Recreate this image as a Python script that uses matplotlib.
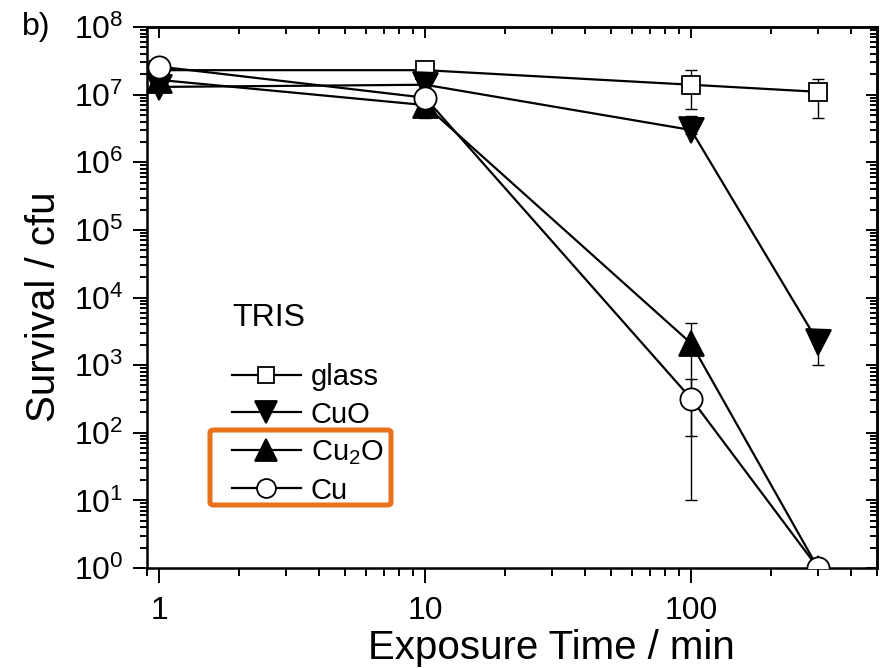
import matplotlib
matplotlib.use("Agg")
import matplotlib.pyplot as plt
from matplotlib.ticker import LogLocator, FixedLocator, FixedFormatter, NullFormatter, LogFormatterMathtext
from matplotlib.patches import FancyBboxPatch
import numpy as np

plt.rcParams['font.family'] = ['Liberation Sans', 'DejaVu Sans']
plt.rcParams['mathtext.fontset'] = 'custom'
plt.rcParams['mathtext.rm'] = 'Liberation Sans'
plt.rcParams['mathtext.it'] = 'Liberation Sans'

# Exposure times (min) and surviving colony-forming units
time = [1, 10, 100, 300]
labels = ["glass", "CuO", "Cu$_2$O", "Cu"]

glass = [2.3e7, 2.3e7, 1.4e7, 1.1e7]
glass_lo = [2.0e7, 1.9e7, 6.2e6, 4.5e6]
glass_hi = [2.6e7, 3.0e7, 2.3e7, 1.7e7]

cuo = [1.3e7, 1.4e7, 3.0e6, 2.2e3]
cuo_lo = [1.1e7, 1.2e7, 2.6e6, 1.0e3]
cuo_hi = [1.5e7, 1.6e7, 4.8e6, 3.3e3]

cu2o = [1.65e7, 7.0e6, 2.1e3, 1.0]
cu2o_lo = [1.4e7, 4.5e6, 9.0e1, 1.0]
cu2o_hi = [1.9e7, 9.0e6, 4.2e3, 1.0]

cu = [2.6e7, 9.0e6, 3.2e2, 1.0]
cu_lo = [2.2e7, 8.0e6, 1.0e1, 1.0]
cu_hi = [3.2e7, 1.0e7, 6.3e2, 1.0]

W, H = 885, 668
fig = plt.figure(figsize=(W / 100, H / 100), dpi=100)
ax = fig.add_axes([147 / W, 1 - 568 / H, 730 / W, 541 / H])

series = [
    (glass, glass_lo, glass_hi, dict(marker='s', mfc='white', ms=13.5)),
    (cuo, cuo_lo, cuo_hi, dict(marker='v', mfc='black', ms=18)),
    (cu2o, cu2o_lo, cu2o_hi, dict(marker='^', mfc='black', ms=18)),
    (cu, cu_lo, cu_hi, dict(marker='o', mfc='white', ms=16)),
]

handles = []
for (vals, lo, hi, style), lab in zip(series, labels):
    v = np.array(vals)
    yerr = np.vstack([v - np.array(lo), np.array(hi) - v])
    ax.errorbar(time, v, yerr=yerr, fmt='none', ecolor='black', elinewidth=1.0,
                capsize=4, capthick=1.0, zorder=2)
    h, = ax.plot(time, v, color='black', lw=1.6, mec='black', mew=1.3,
                 zorder=3, label=lab, **style)
    handles.append(h)

ax.set_xscale('log')
ax.set_yscale('log')
ax.set_xlim(0.9, 500)
ax.set_ylim(1, 1e8)

minor_subs = np.arange(2, 10)
ax.xaxis.set_major_locator(FixedLocator([1, 10, 100]))
ax.xaxis.set_major_formatter(FixedFormatter(['1', '10', '100']))
ax.xaxis.set_minor_locator(LogLocator(base=10, subs=minor_subs, numticks=20))
ax.xaxis.set_minor_formatter(NullFormatter())
ax.yaxis.set_major_locator(LogLocator(base=10, numticks=20))
ax.yaxis.set_major_formatter(LogFormatterMathtext())
ax.yaxis.set_minor_locator(LogLocator(base=10, subs=minor_subs, numticks=20))
ax.yaxis.set_minor_formatter(NullFormatter())

ax.tick_params(which='both', direction='out', top=False, right=False, labelsize=23, width=1.4)
ax.tick_params(axis='x', which='major', length=11, pad=9)
ax.tick_params(axis='x', which='minor', length=6)
ax.tick_params(axis='y', which='major', length=10, pad=7)
ax.tick_params(axis='y', which='minor', length=5)

# inward mirror ticks on the top and right edges
top = ax.secondary_xaxis('top')
top.xaxis.set_major_locator(FixedLocator([1, 10, 100]))
top.xaxis.set_minor_locator(LogLocator(base=10, subs=minor_subs, numticks=20))
right = ax.secondary_yaxis('right')
right.yaxis.set_major_locator(LogLocator(base=10, numticks=20))
right.yaxis.set_minor_locator(LogLocator(base=10, subs=minor_subs, numticks=20))
for sec, axis, loc in ((top, top.xaxis, 'top'), (right, right.yaxis, 'right')):
    axis.set_major_formatter(NullFormatter())
    axis.set_minor_formatter(NullFormatter())
    sec.tick_params(which='both', direction='in', width=1.4)
    sec.tick_params(which='major', length=8)
    sec.tick_params(which='minor', length=5)
    sec.spines[loc].set_linewidth(1.8)

for s in ax.spines.values():
    s.set_linewidth(1.8)

fig.text(551 / W, 1 - 648 / H, 'Exposure Time / min', fontsize=29, ha='center', va='center')
fig.text(44 / W, 1 - 307 / H, 'Survival / cfu', fontsize=29, rotation=90, ha='center', va='center')
fig.text(22 / W, 1 - 35 / H, 'b)', fontsize=23, ha='left', va='baseline')

ax.text(0.1164, 0.462, 'TRIS', transform=ax.transAxes, fontsize=23, ha='left', va='center')
ax.legend(handles=handles, loc='upper left', bbox_to_anchor=(0.1164, 0.379),
          frameon=False, fontsize=21, handlelength=2.35, handletextpad=0.35,
          labelspacing=0.33, borderaxespad=0, borderpad=0, markerscale=0.85)

fig.patches.append(FancyBboxPatch((210 / W, 1 - 505 / H), 181 / W, 75 / H,
                                  boxstyle='round,pad=0,rounding_size=0.004',
                                  transform=fig.transFigure, fill=False,
                                  edgecolor='#e8721c', linewidth=3.6, zorder=10))

fig.savefig('out.png', dpi=100)
